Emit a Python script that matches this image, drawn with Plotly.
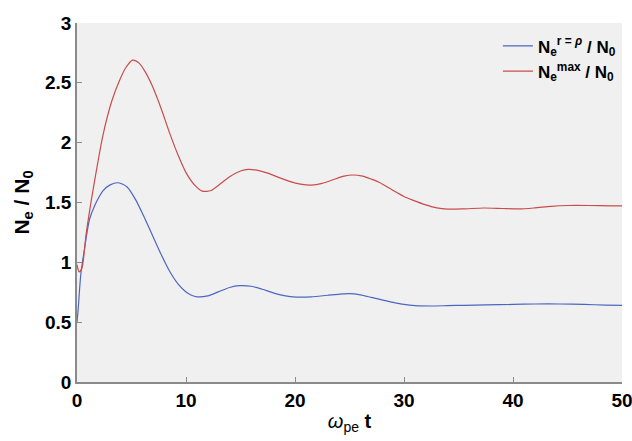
import plotly.graph_objects as go

# Red series: N_e^max / N_0
t_max = [0, 0.2, 0.45, 0.85, 1.5, 2.4, 3.2, 3.9, 4.5, 5.1, 5.7, 6.3, 6.9, 7.7, 8.5, 9.3, 10.0, 10.8,
         11.5, 12.3, 13.0, 14.0, 15.0, 15.7, 16.5, 17.5, 18.5, 19.5, 20.5, 21.5, 22.5, 23.5, 24.5,
         25.3, 26.2, 27.0, 27.8, 29.0, 30.0, 30.8, 32.0, 33.0, 34.0, 35.5, 37.3, 39.0, 40.6, 42.0,
         43.5, 45.0, 47.0, 49.0, 50.0]
n_max = [0.98, 0.92, 0.95, 1.245, 1.62, 2.07, 2.35, 2.52, 2.63, 2.69, 2.665, 2.585, 2.475, 2.29,
         2.08, 1.89, 1.75, 1.645, 1.595, 1.60, 1.645, 1.715, 1.763, 1.777, 1.77, 1.745, 1.71, 1.677,
         1.654, 1.646, 1.66, 1.69, 1.72, 1.73, 1.72, 1.695, 1.665, 1.60, 1.55, 1.52, 1.48, 1.455,
         1.445, 1.447, 1.454, 1.45, 1.446, 1.455, 1.468, 1.475, 1.475, 1.472, 1.471]

# Blue series: N_e^{r=rho} / N_0
t_rho = [0, 0.1, 0.35, 0.7, 1.15, 1.7, 2.4, 3.0, 3.8, 4.6, 5.4, 6.2, 7.0, 7.7, 8.5, 9.3, 10.0, 10.5,
         11.0, 12.0, 13.0, 14.0, 14.9, 16.0, 17.0, 18.0, 19.0, 20.1, 21.5, 23.0, 24.0, 25.0, 26.0,
         27.0, 27.8, 29.0, 30.0, 31.0, 32.5, 34.0, 35.5, 37.5, 40.0, 42.0, 44.3, 46.5, 48.5, 50.0]
n_rho = [0.5, 0.6, 0.9, 1.12, 1.36, 1.49, 1.60, 1.645, 1.665, 1.63, 1.52, 1.37, 1.21, 1.07, 0.925,
         0.815, 0.752, 0.725, 0.712, 0.72, 0.755, 0.79, 0.805, 0.80, 0.775, 0.745, 0.722, 0.71, 0.712,
         0.725, 0.733, 0.738, 0.728, 0.707, 0.69, 0.665, 0.648, 0.638, 0.635, 0.638, 0.641, 0.645,
         0.648, 0.652, 0.652, 0.648, 0.643, 0.641]

x_ticks = [0, 10, 20, 30, 40, 50]
y_ticks = [0, 0.5, 1, 1.5, 2, 2.5, 3]
y_tick_labels = ["0", "0.5", "1", "1.5", "2", "2.5", "3"]

FONT = "Liberation Sans, Arial, Helvetica, sans-serif"

fig = go.Figure()
fig.add_trace(go.Scatter(
    x=t_rho, y=n_rho, mode="lines", line=dict(color="#4d66c2", width=1.2, shape="spline", smoothing=0.7),
    name="<b>N<sub>e</sub><sup>r = <i>ρ</i></sup> / N<sub>0</sub></b>"))
fig.add_trace(go.Scatter(
    x=t_max, y=n_max, mode="lines", line=dict(color="#c84c4c", width=1.2, shape="spline", smoothing=0.7),
    name="<b>N<sub>e</sub><sup>max</sup> / N<sub>0</sub></b>"))

fig.update_layout(
    width=632, height=441,
    margin=dict(l=77, r=10, t=23, b=59),
    paper_bgcolor="white",
    plot_bgcolor="#f0f0f0",
    font=dict(family=FONT, color="black"),
    showlegend=True,
    legend=dict(x=0.998, y=0.985, xanchor="right", yanchor="top", bgcolor="rgba(0,0,0,0)",
                font=dict(family=FONT, size=17, color="black"), tracegroupgap=0,
                itemwidth=30),
    xaxis=dict(range=[0, 50], tickvals=x_ticks, showgrid=False, zeroline=False, automargin=False,
               showline=True, linecolor="#8a8a8a", linewidth=1.5, ticks="inside", ticklen=5,
               tickcolor="#8a8a8a", tickfont=dict(size=19, weight="bold"), ticklabeloverflow="allow",
               title=dict(text="<i>ω</i><sub>pe</sub> <b>t</b>", font=dict(size=20), standoff=4)),
    yaxis=dict(range=[0, 3], tickvals=y_ticks, ticktext=y_tick_labels, showgrid=False, zeroline=False,
               automargin=False,
               showline=True, linecolor="#8a8a8a", linewidth=1.5, ticks="inside", ticklen=5,
               tickcolor="#8a8a8a", tickfont=dict(size=19, weight="bold"), ticklabeloverflow="allow",
               title=dict(text="<b>N<sub>e</sub> / N<sub>0</sub></b>", font=dict(size=21), standoff=10)),
)

fig.write_html("out.html")
